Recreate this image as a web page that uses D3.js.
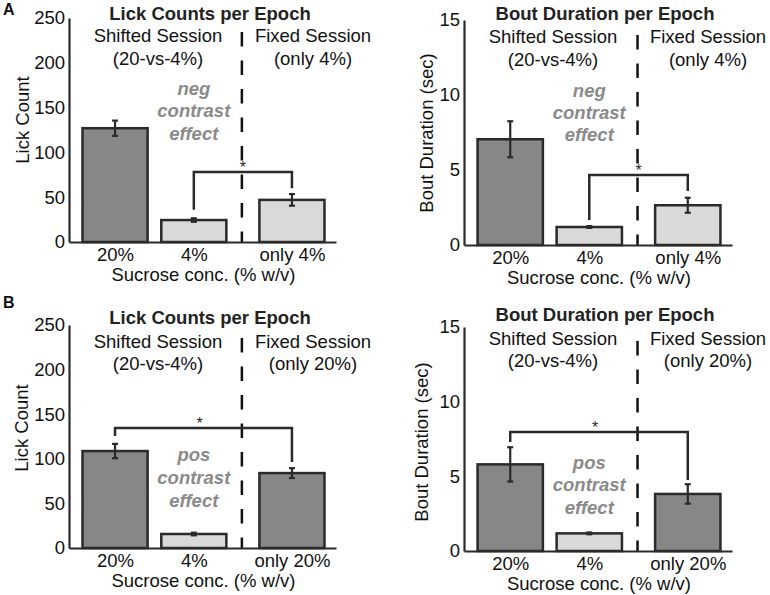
<!DOCTYPE html>
<html>
<head>
<meta charset="utf-8">
<script src="https://cdn.jsdelivr.net/npm/d3@7"></script>
<style>
  html, body { margin: 0; padding: 0; background: #fff; }
  svg text { font-family: "Liberation Sans", Arial, sans-serif; }
</style>
</head>
<body>
<svg id="chart" width="770" height="595"></svg>
<script>
// ---------------- DATA ----------------
const categoriesA = ["20%", "4%", "only 4%"];
const categoriesB = ["20%", "4%", "only 20%"];

const lickA = [127, 24.5, 47];
const lickAErr = [8.5, 2, 6.5];
const boutA = [7.05, 1.2, 2.65];
const boutAErr = [1.2, 0.06, 0.5];

const lickB = [108.7, 15.7, 84];
const lickBErr = [8, 1.5, 5.5];
const boutB = [5.8, 1.18, 3.82];
const boutBErr = [1.15, 0.06, 0.65];

// bracket: [top value, left leg end value, right leg end value]
const bracketLickA = [78, 36, 60];
const bracketBoutA = [4.67, 1.67, 3.6];
const bracketLickB = [134.5, 125.6, 96.4];
const bracketBoutB = [7.97, 7.3, 4.75];
// bracket endpoints (category indices)
const bracketPairA = [1, 2];
const bracketPairB = [0, 2];

const lickTicks = [0, 50, 100, 150, 200, 250];
const boutTicks = [0, 5, 10, 15];

const shadesA = ["dark", "light", "light"];
const shadesB = ["dark", "light", "dark"];

// ---------------- STYLE / LAYOUT ----------------
const DARK = "#878787", LIGHT = "#d9d9d9", INK = "#2a2a2a", GREYTXT = "#8a8a8a";
const FS = 18.5;
const svg = d3.select("#chart");

const catPos = [0.69, 1.87, 3.34];   // category slot positions on a 0..4 band
const dividerPos = 2.59;
const barW = 0.975;

function panel(cfg) {
  const g = svg.append("g");
  const x = d3.scaleLinear().domain([0, 4]).range([cfg.ox, cfg.x1]);
  const y = d3.scaleLinear().domain([0, cfg.max]).range([cfg.y0, cfg.yTop]);
  const bw = x(barW) - x(0);

  // bars
  g.selectAll("rect.bar").data(cfg.values).enter().append("rect")
    .attr("x", (d, i) => x(catPos[i]) - bw / 2)
    .attr("y", d => y(d))
    .attr("width", bw)
    .attr("height", d => y(0) - y(d))
    .attr("fill", (d, i) => cfg.shades[i] === "dark" ? DARK : LIGHT)
    .attr("stroke", INK).attr("stroke-width", 2.5);

  // error bars
  cfg.values.forEach((v, i) => {
    const cx = x(catPos[i]), e = cfg.errs[i];
    const eb = g.append("g").attr("stroke", INK).attr("stroke-width", 2.2);
    eb.append("line").attr("x1", cx).attr("x2", cx).attr("y1", y(v + e)).attr("y2", y(v - e));
    eb.append("line").attr("x1", cx - 3).attr("x2", cx + 3).attr("y1", y(v + e)).attr("y2", y(v + e));
    eb.append("line").attr("x1", cx - 3).attr("x2", cx + 3).attr("y1", y(v - e)).attr("y2", y(v - e));
  });

  // divider
  g.append("line")
    .attr("x1", x(dividerPos)).attr("x2", x(dividerPos))
    .attr("y1", cfg.y0 - 210).attr("y2", cfg.y0)
    .attr("stroke", "#111").attr("stroke-width", 2.5)
    .attr("stroke-dasharray", "14.5,14");

  // bracket
  const [bt, bl, br] = cfg.bracket;
  const xl = x(catPos[cfg.pair[0]]), xr = x(catPos[cfg.pair[1]]);
  g.append("path")
    .attr("d", `M${xl},${y(bl)}V${y(bt)}H${xr}V${y(br)}`)
    .attr("fill", "none").attr("stroke", INK).attr("stroke-width", 2.5);
  g.append("text").attr("x", (xl + xr) / 2 - cfg.starShift).attr("y", y(bt) + 1)
    .attr("text-anchor", "middle").attr("font-size", 16).attr("fill", INK).text("*");

  // y axis
  const ya = g.append("g").attr("transform", `translate(${cfg.ox},0)`)
    .call(d3.axisLeft(y).tickValues(cfg.ticks).tickSize(0).tickSizeOuter(0).tickPadding(4));
  ya.select(".domain").attr("stroke", INK).attr("stroke-width", 2.2);
  ya.selectAll("text").attr("font-size", FS).attr("fill", "#111")
    .attr("font-family", "Liberation Sans, Arial, sans-serif");

  // x axis
  const xa = g.append("g").attr("transform", `translate(0,${cfg.y0})`)
    .call(d3.axisBottom(x).tickValues(catPos).tickSize(0).tickSizeOuter(0).tickPadding(0)
      .tickFormat((d, i) => cfg.cats[i]));
  xa.select(".domain").attr("stroke", INK).attr("stroke-width", 2.2);
  xa.selectAll("text").attr("font-size", FS).attr("fill", "#111")
    .attr("font-family", "Liberation Sans, Arial, sans-serif")
    .attr("dy", null).attr("y", 19);

  // axis titles
  g.append("text").attr("x", (x(catPos[0]) + x(catPos[2])) / 2).attr("y", cfg.y0 + 39)
    .attr("text-anchor", "middle").attr("font-size", FS).attr("fill", "#111")
    .text("Sucrose conc. (% w/v)");
  g.append("text").attr("transform", `translate(${cfg.ylx},${cfg.yly}) rotate(-90)`)
    .attr("text-anchor", "middle").attr("font-size", FS).attr("fill", "#111")
    .text(cfg.ylabel);

  // titles
  g.append("text").attr("x", cfg.ox + 141).attr("y", cfg.tY)
    .attr("text-anchor", "middle").attr("font-size", FS).attr("font-weight", "bold")
    .attr("fill", "#222").text(cfg.title);
  const sess = [["Shifted Session", "(20-vs-4%)", 89], ["Fixed Session", cfg.fixedSub, 244]];
  sess.forEach(s => {
    g.append("text").attr("x", cfg.ox + s[2]).attr("y", cfg.sY[0])
      .attr("text-anchor", "middle").attr("font-size", FS).attr("fill", "#111").text(s[0]);
    g.append("text").attr("x", cfg.ox + s[2]).attr("y", cfg.sY[1])
      .attr("text-anchor", "middle").attr("font-size", FS).attr("fill", "#111").text(s[1]);
  });

  // contrast effect note
  cfg.note.forEach((t, i) => {
    g.append("text").attr("x", x(catPos[1])).attr("y", cfg.nY[i])
      .attr("text-anchor", "middle").attr("font-size", FS).attr("font-weight", "bold")
      .attr("font-style", "italic").attr("fill", GREYTXT).text(t);
  });
}

panel({ ox: 69, x1: 336, y0: 242, yTop: 18, max: 250, ticks: lickTicks,
  values: lickA, errs: lickAErr, shades: shadesA, cats: categoriesA,
  bracket: bracketLickA, pair: bracketPairA, starShift: 0,
  ylabel: "Lick Count", ylx: 29, yly: 120,
  title: "Lick Counts per Epoch", tY: 20, sY: [42, 65], fixedSub: "(only 4%)",
  note: ["neg", "contrast", "effect"], nY: [95, 117, 140] });

panel({ ox: 464, x1: 732, y0: 245, yTop: 20, max: 15, ticks: boutTicks,
  values: boutA, errs: boutAErr, shades: shadesA, cats: categoriesA,
  bracket: bracketBoutA, pair: bracketPairA, starShift: 0,
  ylabel: "Bout Duration (sec)", ylx: 433, yly: 133,
  title: "Bout Duration per Epoch", tY: 20, sY: [43, 66], fixedSub: "(only 4%)",
  note: ["neg", "contrast", "effect"], nY: [97, 119, 141] });

panel({ ox: 69, x1: 336, y0: 548, yTop: 325, max: 250, ticks: lickTicks,
  values: lickB, errs: lickBErr, shades: shadesB, cats: categoriesB,
  bracket: bracketLickB, pair: bracketPairB, starShift: 4,
  ylabel: "Lick Count", ylx: 28, yly: 428,
  title: "Lick Counts per Epoch", tY: 324, sY: [348, 370], fixedSub: "(only 20%)",
  note: ["pos", "contrast", "effect"], nY: [461, 484, 507] });

panel({ ox: 464, x1: 732, y0: 551, yTop: 327, max: 15, ticks: boutTicks,
  values: boutB, errs: boutBErr, shades: shadesB, cats: categoriesB,
  bracket: bracketBoutB, pair: bracketPairB, starShift: 4,
  ylabel: "Bout Duration (sec)", ylx: 428, yly: 442,
  title: "Bout Duration per Epoch", tY: 321, sY: [345, 367], fixedSub: "(only 20%)",
  note: ["pos", "contrast", "effect"], nY: [469, 491, 514] });

// panel letters
svg.append("text").attr("x", 3).attr("y", 15).attr("font-size", 16).attr("font-weight", "bold")
  .attr("fill", "#111").text("A");
svg.append("text").attr("x", 3).attr("y", 308).attr("font-size", 16).attr("font-weight", "bold")
  .attr("fill", "#111").text("B");
</script>
</body>
</html>
